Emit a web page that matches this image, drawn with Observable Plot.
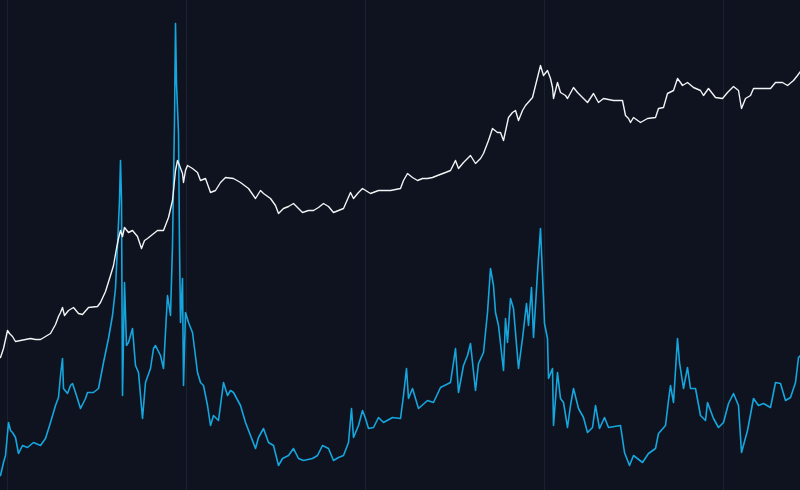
<!DOCTYPE html>
<html>
<head>
<meta charset="utf-8">
<script src="https://cdn.jsdelivr.net/npm/d3@7"></script>
<script src="https://cdn.jsdelivr.net/npm/@observablehq/plot@0.6"></script>
<style>
  html, body { margin: 0; padding: 0; background: #0e131f; }
  #chart { width: 800px; height: 490px; overflow: hidden; }
</style>
</head>
<body>
<div id="chart"></div>
<script>
// Time index (arbitrary units) and values
const gridTicks = [7, 186, 365, 544, 723];

const whiteX = [0,3,7,9,12,15,20,25,30,35,40,45,50,55,58,60,62,64,68,73,78,82,88,97,100,105,110,113,116,118,120,122,124,128,132,137,141,144,147,152,157,163,168,172,175,177,179,182,183,185,187,192,197,200,205,210,215,220,225,233,240,248,255,260,263,270,275,278,283,288,293,302,308,313,318,323,328,333,338,343,350,353,358,362,370,378,385,390,400,403,407,412,417,422,427,432,437,445,450,455,458,463,470,475,480,483,488,492,497,500,503,508,512,515,518,522,525,532,535,540,543,547,550,552,553,557,560,565,567,573,577,580,587,593,598,603,613,622,625,628,630,633,640,647,655,658,663,667,673,677,680,682,687,693,700,703,708,715,722,727,733,738,741,745,750,753,760,770,775,782,787,793,797,800];
const whiteV = [133,142,160,157,154,149,150,151,152,151,151,154,157,166,174,178,183,175,180,183,177,176,183,184,188,199,215,225,242,252,260,254,263,258,260,254,242,250,252,256,260,260,273,290,320,330,325,317,308,320,325,322,318,310,312,298,300,308,313,312,308,302,292,300,297,292,285,277,282,284,287,278,280,280,283,287,284,278,280,282,298,292,298,302,297,300,300,300,302,310,317,313,310,312,312,313,315,318,320,330,322,328,335,327,332,337,350,362,358,358,350,373,378,380,370,380,385,393,405,425,415,420,412,403,392,408,398,395,392,403,398,395,388,397,388,392,390,390,375,372,368,373,368,372,373,382,383,397,400,412,408,405,408,403,400,395,402,393,392,398,404,400,382,392,395,402,402,402,408,408,405,410,415,419];

const cyanX = [0,3,5,8,10,12,15,18,22,27,33,40,45,50,55,58,60,62,63,67,70,72,75,80,85,87,93,98,103,108,112,115,117,119,120,121,122,124,126,128,132,135,138,142,145,150,153,155,160,163,167,170,172,174,175,176,178,179,180,182,183,185,188,192,197,200,203,207,210,213,218,223,227,230,233,240,245,250,255,258,263,268,273,278,282,288,293,298,303,312,317,322,328,333,338,343,348,351,353,358,362,365,368,373,378,383,392,400,403,406,408,412,418,427,433,440,450,453,455,458,463,467,470,475,478,483,487,490,493,495,498,503,505,507,510,513,518,522,526,528,531,533,535,537,540,543,544,547,548,552,553,557,560,563,567,570,573,578,583,587,592,595,599,604,608,620,624,629,633,642,648,655,658,665,668,670,673,677,679,683,687,690,695,700,705,707,713,718,723,728,733,738,741,747,753,758,763,770,775,780,785,790,795,798,800];
const cyanV = [15,28,35,68,60,58,53,37,45,43,48,45,52,68,85,93,115,132,102,97,105,107,98,82,92,98,98,102,128,152,175,202,245,290,330,290,95,208,145,148,162,125,118,72,108,122,142,145,135,122,195,175,245,370,467,407,357,245,168,212,105,178,168,158,118,108,105,85,65,75,70,108,95,100,98,85,68,55,42,53,62,48,45,25,32,35,42,32,30,32,35,45,42,30,33,35,48,82,53,65,80,72,62,63,73,68,73,72,95,122,92,102,82,90,88,103,108,128,142,98,125,135,147,100,127,138,178,222,205,178,165,120,172,148,192,182,122,152,187,165,203,153,185,218,262,192,167,152,112,122,65,118,92,88,63,85,102,82,73,58,63,85,62,73,63,65,38,25,35,28,37,42,57,65,90,105,88,152,128,102,123,102,102,75,70,88,72,63,68,87,97,85,38,60,92,85,87,83,108,107,90,93,108,133,135];

const chart = Plot.plot({
  width: 800,
  height: 490,
  margin: 0,
  style: { background: "#0e131f", overflow: "hidden" },
  x: { domain: [0, 800], axis: null },
  y: { domain: [0, 490], axis: null },
  marks: [
    Plot.ruleX(gridTicks, { stroke: "#1a2131", strokeWidth: 1 }),
    Plot.line({ length: cyanX.length }, {
      x: cyanX, y: cyanV, stroke: "#16a6de", strokeWidth: 1.6, curve: "linear"
    }),
    Plot.line({ length: whiteX.length }, {
      x: whiteX, y: whiteV, stroke: "#f2f3f5", strokeWidth: 1.4, curve: "linear"
    })
  ]
});
document.getElementById("chart").appendChild(chart);
</script>
</body>
</html>
